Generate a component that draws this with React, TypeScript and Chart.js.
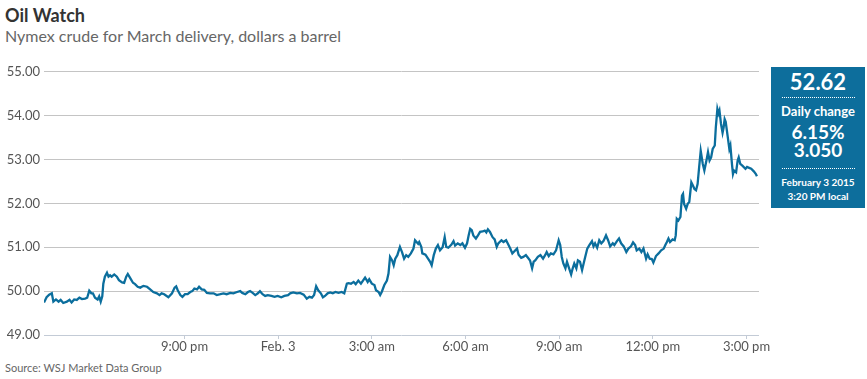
import React, { useEffect, useRef } from "react";
import { Chart, registerables } from "chart.js";

Chart.register(...registerables);

// minutes relative to midnight, Feb. 3 (negative = Feb. 2 evening)
const times = [
  -450, -445, -440, -435, -432, -427, -422, -418, -413, -406,
  -401, -397, -392, -387, -382, -377, -371, -367, -363, -359,
  -356, -352, -347, -344, -341, -338, -336, -333, -329, -326,
  -323, -320, -315, -310, -306, -300, -296, -292, -289, -284,
  -279, -275, -270, -265, -259, -252, -246, -240, -233, -228,
  -224, -219,
  -211, -204, -199, -196, -193, -188, -184, -179, -174, -169,
  -165, -161, -156, -152, -147, -142, -137, -131, -124, -118,
  -111, -105, -99, -92, -86, -79, -73, -69, -63, -58,
  -54, -49, -44, -39, -35, -30, -25, -20, -13, -7,
  -1, 6, 12, 19,
  23, 29, 36, 42, 49, 55, 60, 65, 69, 73,
  77, 82, 86, 90, 95, 100, 105, 110, 116, 122,
  127, 132, 135, 140, 145, 149, 154, 159, 163, 167,
  172, 175, 180, 185, 188, 193, 196, 199, 204, 209,
  212, 215, 219, 222, 225, 229, 234, 238, 242, 246,
  250, 255, 260,
  263, 269, 271, 275, 277, 283, 288, 292, 295, 299,
  303, 307, 311, 316, 320, 323, 327, 333, 337, 340,
  345, 350, 354, 359, 363, 366, 369, 372, 375, 380,
  384, 388, 393, 397, 400, 403, 407, 412, 416, 420,
  423, 429, 433, 438, 441, 446, 450, 454, 459, 462,
  467, 471, 476, 480, 484, 488, 491, 494, 499,
  504, 509, 513, 516, 520, 524, 529, 534, 539, 542,
  545, 548, 552, 555, 558, 563, 566, 569, 573, 576,
  580, 584, 587, 590, 594, 598, 603, 606, 609, 613,
  617, 621, 625, 630, 634, 638, 643, 646, 651, 655,
  659, 664, 669, 673, 678, 682, 686, 689, 694, 698,
  702, 707, 710, 714, 718, 721, 726, 731, 736, 741,
  744, 747, 750, 753, 758, 762, 764, 766, 769, 773,
  776, 778, 780, 784, 787, 790, 794, 797, 800, 803,
  806, 809, 812, 816, 819, 823, 826, 829, 832, 835,
  839, 841, 844, 846, 848, 851, 854, 856, 858, 860,
  864, 867, 869, 872, 874, 876, 880, 883, 885, 888,
  892, 898, 901, 905, 909, 914, 918, 920,
];

const prices = [
  49.74, 49.86, 49.92, 49.95, 49.76, 49.81, 49.76, 49.8, 49.73, 49.76,
  49.8, 49.74, 49.81, 49.8, 49.85, 49.82, 49.83, 49.85, 50.01, 49.95,
  49.95, 49.85, 49.81, 49.88, 49.76, 49.88, 50.17, 50.33, 50.42, 50.33,
  50.36, 50.33, 50.38, 50.33, 50.25, 50.2, 50.19, 50.33, 50.39, 50.29,
  50.19, 50.16, 50.1, 50.08, 50.12, 50.1, 50.04, 49.98, 49.95, 49.91,
  49.95, 49.93,
  49.86, 49.95, 50.08, 50.11, 50.02, 49.91, 49.87, 49.93, 49.93, 49.98,
  50.0, 50.06, 50.04, 50.1, 50.04, 50.03, 49.96, 49.95, 49.95, 49.91,
  49.93, 49.95, 49.93, 49.96, 49.95, 49.98, 50.0, 49.96, 49.93, 49.98,
  50.0, 49.96, 49.91, 49.95, 50.0, 49.93, 49.89, 49.91, 49.89, 49.87,
  49.89, 49.86, 49.89, 49.91,
  49.95, 49.97, 49.95, 49.96, 49.92, 49.83, 49.87, 49.85, 49.91, 50.11,
  50.02, 49.95, 49.86, 49.89, 49.95, 49.97, 49.95, 49.98, 49.96, 49.98,
  49.95, 50.17, 50.18, 50.17, 50.21, 50.16, 50.24, 50.17, 50.24, 50.31,
  50.21, 50.27, 50.17, 50.14, 50.02, 49.98, 49.91, 49.98, 50.14, 50.24,
  50.4, 50.78, 50.7, 50.59, 50.74, 50.82, 51.01, 50.89, 50.74, 50.82,
  50.78, 50.86, 50.97,
  51.16, 51.08, 51.12, 51.01, 50.86, 50.83, 50.74, 50.67, 50.59, 50.82,
  50.97, 51.05, 50.93, 51.0, 51.23, 51.01, 50.99, 51.06, 51.14, 51.04,
  51.09, 51.05, 51.09, 50.99, 51.09, 51.27, 51.42, 51.39, 51.27, 51.2,
  51.27, 51.35, 51.36, 51.38, 51.34, 51.41, 51.35, 51.23, 51.18, 51.01,
  51.09, 51.16, 51.12, 51.16, 51.09, 50.97, 50.86, 50.91, 50.97, 50.83,
  50.76, 50.78, 50.82, 50.76, 50.7, 50.52, 50.67, 50.7, 50.78,
  50.82, 50.74, 50.82, 50.89, 50.8, 50.86, 50.84, 50.93, 51.16, 51.05,
  50.78, 50.63, 50.52, 50.67, 50.56, 50.38, 50.52, 50.63, 50.52, 50.7,
  50.67, 50.48, 50.63, 50.78, 50.97, 51.05, 51.14, 51.02, 51.09, 50.99,
  51.16, 51.09, 51.14, 51.27, 51.16, 51.02, 51.09, 51.05, 51.14, 51.2,
  51.09, 51.02, 50.89, 50.97, 51.02, 51.11, 51.05, 50.93, 50.97, 50.89,
  50.97, 50.74, 50.84, 50.74, 50.73, 50.65, 50.8, 50.86, 50.93, 50.97,
  51.05, 51.12, 51.2, 51.12, 51.18, 51.16, 51.27, 51.65, 51.61, 51.69,
  52.18, 52.22, 51.99, 51.88, 51.99, 52.03, 52.48, 52.41, 52.33, 52.3,
  52.44, 52.83, 53.2, 52.9, 52.75, 52.98, 53.17, 52.98, 53.05, 53.24,
  53.32, 53.73, 54.15, 54.05, 54.12, 53.81, 53.61, 53.73, 53.92, 53.86,
  53.51, 53.24, 53.32, 52.9, 52.67, 52.75, 52.71, 52.98, 53.05, 52.9,
  52.86, 52.79, 52.83, 52.81, 52.79, 52.73, 52.67, 52.62,
];

const xTickMinutes = [-180, 0, 180, 360, 540, 720, 900];
const xTickLabels = ["9:00 pm", "Feb. 3", "3:00 am", "6:00 am", "9:00 am", "12:00 pm", "3:00 pm"];
const xMin = -450;
const xMax = 924;
const yMin = 49;
const yMax = 55;

const title = "Oil Watch";
const subtitle = "Nymex crude for March delivery, dollars a barrel";
const source = "Source: WSJ Market Data Group";
const lastPrice = "52.62";
const changeLabel = "Daily change";
const changePct = "6.15%";
const changeAbs = "3.050";
const dateLabel = "February 3 2015";
const timeLabel = "3:20 PM local";

const FONT = "Lato, 'Open Sans', sans-serif";
const LINE = "#0b6e9d";
const BOX = "#0d6e9c";

export default function App() {
  const ref = useRef<HTMLCanvasElement>(null);

  useEffect(() => {
    let chart: Chart | null = null;
    let cancelled = false;
    document.body.style.margin = "0";
    const build = () => {
      if (cancelled || !ref.current) return;
      chart = new Chart(ref.current, {
        type: "line",
        data: {
          datasets: [
            {
              data: times.map((t, i) => ({ x: t, y: prices[i] })),
              borderColor: LINE,
              borderWidth: 2.3,
              pointRadius: 0,
              tension: 0,
              fill: false,
            },
          ],
        },
        options: {
          animation: false,
          responsive: false,
          layout: { padding: { top: 10, right: 41, left: 0, bottom: 0 } },
          plugins: { legend: { display: false }, tooltip: { enabled: false } },
          scales: {
            x: {
              type: "linear",
              min: xMin,
              max: xMax,
              afterBuildTicks: (scale: any) => {
                scale.ticks = xTickMinutes.map((v) => ({ value: v }));
              },
              afterFit: (scale: any) => {
                scale.height = 25;
              },
              ticks: {
                autoSkip: false,
                maxRotation: 0,
                padding: 0,
                color: "#555",
                font: { family: FONT, size: 13 },
                callback: (v: any) => {
                  const i = xTickMinutes.indexOf(Number(v));
                  return i >= 0 ? xTickLabels[i] : "";
                },
              },
              grid: {
                drawOnChartArea: false,
                drawTicks: true,
                tickLength: 4,
                color: "#c3cbd6",
              },
              border: { display: false },
            },
            y: {
              min: yMin,
              max: yMax,
              afterFit: (scale: any) => {
                scale.width = 44;
              },
              ticks: {
                stepSize: 1,
                padding: 4,
                color: "#555",
                font: { family: FONT, size: 13 },
                callback: (v: any) => Number(v).toFixed(2),
              },
              grid: {
                drawTicks: false,
                color: (ctx: any) => (ctx.tick && ctx.tick.value === yMin ? "#c3cbd6" : "#c4c4c4"),
                lineWidth: 1,
              },
              border: { display: false },
            },
          },
        },
      });
    };
    const fonts: any = (document as any).fonts;
    if (fonts && fonts.load) {
      Promise.all([fonts.load("13px Lato"), fonts.load("bold 13px Lato")])
        .catch(() => null)
        .then(build);
    } else build();
    return () => {
      cancelled = true;
      if (chart) chart.destroy();
    };
  }, []);

  const abs = (s: React.CSSProperties): React.CSSProperties => ({ position: "absolute", ...s });
  const boxLine = (top: number, size: number, text: string) => (
    <div
      style={abs({
        left: 0,
        top,
        width: 94,
        height: size,
        lineHeight: size + "px",
        fontSize: size,
        textAlign: "center",
        whiteSpace: "nowrap",
      })}
    >
      {text}
    </div>
  );

  return (
    <div
      style={{
        position: "relative",
        width: 867,
        height: 379,
        background: "#fff",
        fontFamily: FONT,
        overflow: "hidden",
      }}
    >
      <div style={abs({ left: 5, top: 6, fontSize: 18, lineHeight: "18px", fontWeight: 700, color: "#333", whiteSpace: "nowrap" })}>
        {title}
      </div>
      <div style={abs({ left: 5, top: 28, fontSize: 16, lineHeight: "16px", color: "#666", whiteSpace: "nowrap" })}>
        {subtitle}
      </div>
      <canvas ref={ref} width={800} height={300} style={abs({ left: 0, top: 60, width: 800, height: 300 })} />
      <div
        style={abs({
          left: 771,
          top: 67,
          width: 94,
          height: 141,
          background: BOX,
          color: "#fff",
          fontWeight: 700,
        })}
      >
        {boxLine(4, 22, lastPrice)}
        <div style={abs({ left: 11, top: 30, width: 73, borderTop: "1px dotted #fff" })} />
        {boxLine(38, 13, changeLabel)}
        {boxLine(55, 19, changePct)}
        {boxLine(73, 19, changeAbs)}
        <div style={abs({ left: 11, top: 101, width: 73, borderTop: "1px dotted #fff" })} />
        {boxLine(110, 10, dateLabel)}
        {boxLine(124, 10, timeLabel)}
      </div>
      <div style={abs({ left: 5, top: 362, fontSize: 11, lineHeight: "11px", color: "#666", whiteSpace: "nowrap" })}>
        {source}
      </div>
    </div>
  );
}
